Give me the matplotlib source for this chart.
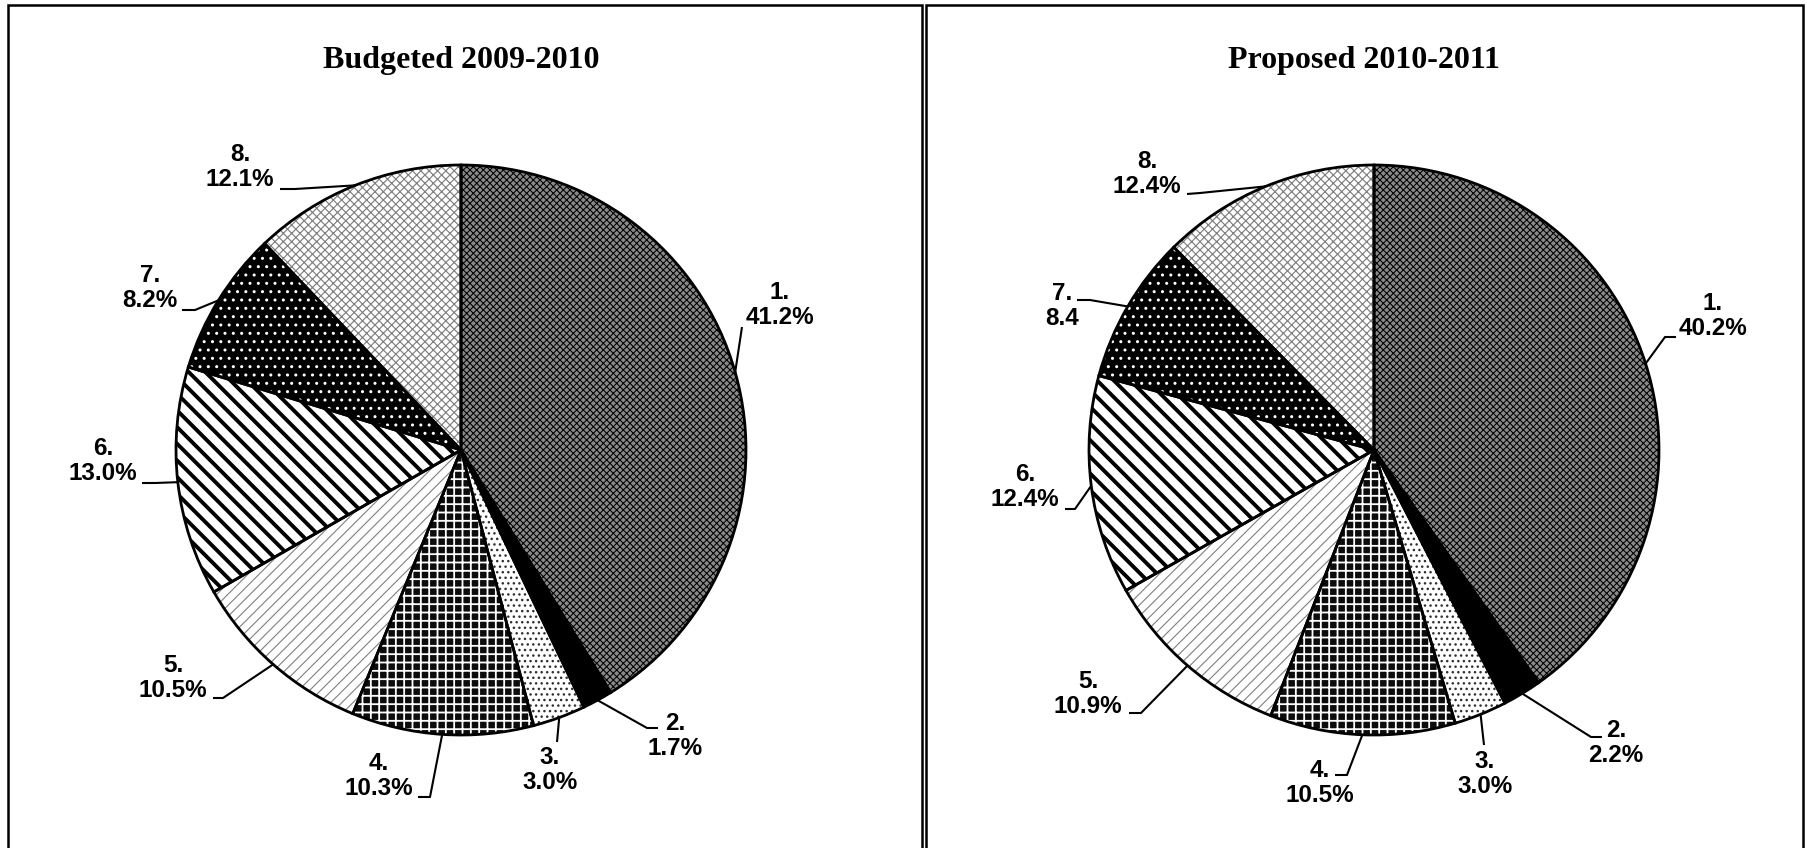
import matplotlib
matplotlib.use('Agg')
import matplotlib.pyplot as plt
import numpy as np
from matplotlib.patches import Rectangle

W, H = 1808, 848
R = 285          # pie radius in pixels
HALF = 440       # half size of each pie axes in pixels

labels = ['1.', '2.', '3.', '4.', '5.', '6.', '7.', '8.']
budget_0910 = [41.2, 1.7, 3.0, 10.3, 10.5, 13.0, 8.2, 12.1]
proposed_1011 = [40.2, 2.2, 3.0, 10.5, 10.9, 12.4, 8.4, 12.4]

left_texts = [f'{v:.1f}%' for v in budget_0910]
right_texts = [f'{v:.1f}%' for v in proposed_1011]
right_texts[6] = '8.4'   # printed without % in the original

# (face, hatch, hatch colour, hatch linewidth) for slices 1..8
styles = [
    ('#8a8a8a', 'xxxxx', 'black', 0.75),
    ('black', None, 'black', 1.0),
    ('white', '...', '#303030', 1.0),
    ('#0c0c0c', '++', 'white', 1.3),
    ('white', '///', '#808080', 0.8),
    ('white', '\\\\', 'black', 2.8),
    ('black', '..', 'white', 1.0),
    ('white', 'xxxx', '#808080', 0.85),
]

# layout in figure pixels: label centres and leader bend points
left_pos = [(780, 305), (675, 736), (550, 770), (379, 776),
            (173, 678), (103, 461), (150, 288), (240, 167)]
left_bends = [[(742, 327)], [(647, 728), (658, 728)], [(557, 742)],
              [(430, 797), (418, 797)], [(223, 698), (213, 698)],
              [(155, 483), (142, 483)], [(195, 310), (182, 310)],
              [(295, 189), (280, 189)]]
right_pos = [(1713, 316), (1616, 743), (1485, 774), (1320, 783),
             (1088, 694), (1025, 487), (1062, 306), (1147, 174)]
right_bends = [[(1665, 337), (1676, 337)], [(1591, 737), (1602, 737)],
               [(1484, 745)], [(1347, 775), (1335, 775)],
               [(1141, 713), (1129, 713)], [(1075, 509), (1065, 509)],
               [(1090, 300), (1077, 300)], [(1200, 193), (1187, 194)]]

lab_font = dict(family=['Liberation Sans', 'DejaVu Sans'], weight='bold', size=17.5)
title_font = dict(family=['Liberation Serif', 'DejaVu Serif'], weight='bold', size=23)

fig = plt.figure(figsize=(W / 100, H / 100), dpi=100, facecolor='white')

# panel frames (bottom edge falls outside the picture)
for x0, x1 in [(8, 922), (926, 1803)]:
    fig.add_artist(Rectangle((x0 / W, -0.1), (x1 - x0) / W, 1.1 - 5 / H,
                             transform=fig.transFigure, fill=False,
                             edgecolor='black', linewidth=1.8))


def draw_pie(cx, cy, values, texts, pos, bends, title, tx):
    ax = fig.add_axes([(cx - HALF) / W, (H - cy - HALF) / H, 2 * HALF / W, 2 * HALF / H])

    def to_data(px, py):
        return (px - cx) / R, (cy - py) / R

    wedges, _ = ax.pie(values, startangle=90, counterclock=False, radius=1)
    for w, (face, hatch, hcol, hlw) in zip(wedges, styles):
        w.set_facecolor(face)
        w.set_edgecolor(hcol)
        w.set_linewidth(0)
        if hatch:
            w.set_hatch(hatch)
            try:
                w.set_hatch_linewidth(hlw)
            except AttributeError:
                pass
    # outlines on top
    ax.pie(values, startangle=90, counterclock=False, radius=1,
           wedgeprops=dict(fill=False, edgecolor='black', linewidth=2.0))

    for w, lab, txt, p, bend in zip(wedges, labels, texts, pos, bends):
        mid = np.deg2rad((w.theta1 + w.theta2) / 2)
        pts = [(np.cos(mid), np.sin(mid))] + [to_data(*b) for b in bend]
        xs, ys = zip(*pts)
        ax.plot(xs, ys, color='black', linewidth=1.5, clip_on=False,
                solid_capstyle='butt')
        x, y = to_data(*p)
        ax.text(x, y, f'{lab}\n{txt}', ha='center', va='center',
                multialignment='center', linespacing=1.1, clip_on=False,
                **lab_font)

    ax.set_xlim(-HALF / R, HALF / R)
    ax.set_ylim(-HALF / R, HALF / R)
    ax.axis('off')
    fig.text(tx / W, 1 - 68 / H, title, ha='center', va='baseline', **title_font)


draw_pie(461, 450, budget_0910, left_texts, left_pos, left_bends,
         'Budgeted 2009-2010', 461)
draw_pie(1374, 450, proposed_1011, right_texts, right_pos, right_bends,
         'Proposed 2010-2011', 1364)

fig.savefig('out.png', dpi=100, facecolor='white')
